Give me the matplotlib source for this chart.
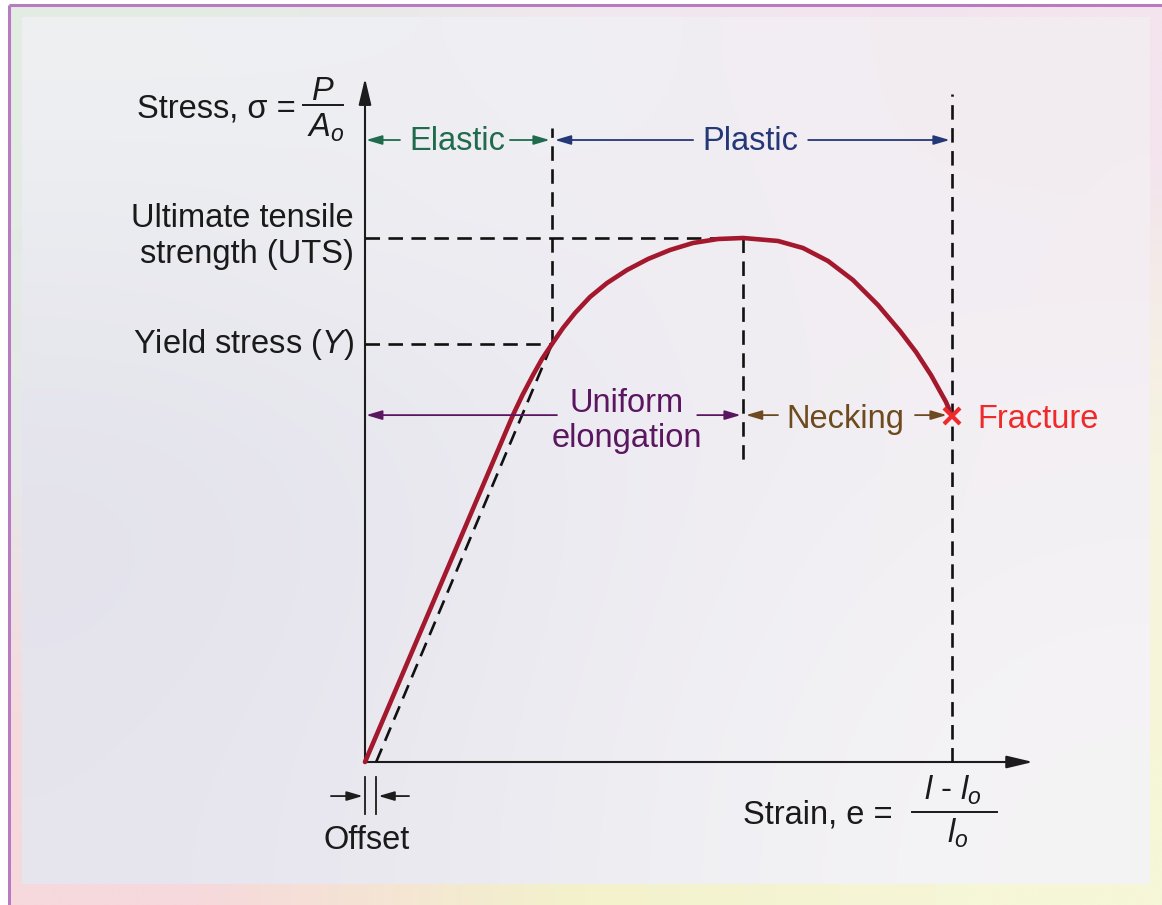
import numpy as np
import matplotlib
matplotlib.use("Agg")
import matplotlib.pyplot as plt
from matplotlib.colors import to_rgb

# ---------------- data (strain normalised to fracture strain, stress normalised to UTS)
curve_strain = [0.0, 0.2521, 0.2683, 0.2862, 0.3015, 0.3186, 0.3373, 0.3578, 0.3833,
                0.4123, 0.4463, 0.4821, 0.5196, 0.5588, 0.6014, 0.6440, 0.7036, 0.7462,
                0.7888, 0.8313, 0.8739, 0.9114, 0.9387, 0.9642, 0.9898, 1.0]
curve_stress = [0.0, 0.6622, 0.7004, 0.7385, 0.7691, 0.7977, 0.8282, 0.8569, 0.8874,
                0.9141, 0.9389, 0.9599, 0.9771, 0.9905, 0.9981, 1.0, 0.9943, 0.9809,
                0.9561, 0.9198, 0.8721, 0.8225, 0.7824, 0.7385, 0.6870, 0.6603]
offset_strain = 0.019
yield_strain, yield_stress = 0.3186, 0.7977
uts_strain, uts_stress = 0.644, 1.0
fracture_strain, fracture_stress = 1.0, 0.660

plt.rcParams["font.family"] = ["Liberation Sans", "DejaVu Sans"]
plt.rcParams["mathtext.fontset"] = "custom"
plt.rcParams["mathtext.rm"] = "Liberation Sans"
plt.rcParams["mathtext.it"] = "Liberation Sans:italic"

W, H = 1162, 905
fig = plt.figure(figsize=(W / 100, H / 100), dpi=100)
fig.patch.set_facecolor("white")

# ---------------- background (pixel coordinates)
bg = fig.add_axes([0, 0, 1, 1], zorder=0)
bg.axis("off")

def grid(cols):
    return np.array([[to_rgb(c) for c in row] for row in cols])

frame = grid([["#e3ece3", "#f1e8ee", "#f3e4ee"],
              ["#e6e8ea", "#eeedf1", "#f6f4e0"],
              ["#f6d9dc", "#f3f2cc", "#f6f6d8"]])
bg.imshow(frame, extent=(9, W, H, 5), interpolation="bilinear", aspect="auto", zorder=0)
panel = grid([["#eef0f2", "#f0eff4", "#f3ecf1"],
              ["#e2e1eb", "#ecebf2", "#f4f0f4"],
              ["#e6e5ee", "#eeedf2", "#f5f4f5"]])
bg.imshow(panel, extent=(22, 1150, 884, 18), interpolation="bicubic", aspect="auto", zorder=1)
bg.plot([9, W], [5, 5], color="#b77cbf", lw=2.2, zorder=2, solid_capstyle="butt")
bg.plot([9, 9], [5, H], color="#b77cbf", lw=2.2, zorder=2, solid_capstyle="butt")
bg.set_xlim(0, W)
bg.set_ylim(H, 0)

# ---------------- main axes
ax = fig.add_axes([365 / W, (H - 762) / H, 680 / W, 692 / H], zorder=2)
ax.set_xlim(0, 680 / 587)
ax.set_ylim(0, 692 / 524)
ax.axis("off")
ax.patch.set_alpha(0)

axis_col = "#1c1c1c"
for xy in [(1.138, 0), (0, 1.305)]:
    ax.annotate("", xy=xy, xytext=(0, 0), annotation_clip=False,
                arrowprops=dict(arrowstyle="-|>,head_length=1.6,head_width=0.38",
                                lw=1.5, color=axis_col, shrinkA=0, shrinkB=0))

dash = dict(color="#111111", lw=1.9, linestyle=(0, (5.5, 3.2)), zorder=3, clip_on=False)
# horizontal guides
ax.plot([0, uts_strain], [uts_stress, uts_stress], **dash)
ax.plot([0, yield_strain], [yield_stress, yield_stress], **dash)
# vertical guides
ax.plot([yield_strain, yield_strain], [yield_stress, 1.21], **dash)
ax.plot([uts_strain, uts_strain], [uts_stress, 0.567], **dash)
ax.plot([fracture_strain, fracture_strain], [0, 1.275], **dash)
# offset line
ax.plot([offset_strain, yield_strain], [0, yield_stress], **dash)

# curve
ax.plot(curve_strain, curve_stress, color="#a3182c", lw=3.3, zorder=4,
        solid_capstyle="round", solid_joinstyle="round", clip_on=False)
ax.plot([fracture_strain], [fracture_stress], marker="x", ms=11, mew=3,
        color="#ee2a2a", zorder=5, linestyle="none", clip_on=False)

def darrow(x0, x1, y, col):
    ax.annotate("", xy=(x1, y), xytext=(x0, y), annotation_clip=False,
                arrowprops=dict(arrowstyle="-|>,head_length=0.95,head_width=0.28",
                                lw=1.3, color=col, shrinkA=0, shrinkB=0), zorder=4)

green, blue, purple, brown = "#1f6b4c", "#243777", "#5b1660", "#6e4a1f"
y_top = 1.187
darrow(0.0596, 0.002, y_top, green)
darrow(0.247, yield_strain - 0.004, y_top, green)
darrow(0.559, yield_strain + 0.005, y_top, blue)
darrow(0.755, fracture_strain - 0.004, y_top, blue)
y_mid = 0.662
darrow(0.327, 0.002, y_mid, purple)
darrow(0.566, uts_strain - 0.004, y_mid, purple)
darrow(0.7036, uts_strain + 0.005, y_mid, brown)
darrow(0.937, fracture_strain - 0.009, y_mid, brown)

# offset markers
for xv in (0.0, offset_strain):
    ax.plot([xv, xv], [-0.029, -0.099], color=axis_col, lw=1.3, clip_on=False)
darrow(-0.058, -0.004, -0.065, axis_col)
darrow(0.075, offset_strain + 0.004, -0.065, axis_col)

# ---------------- texts (pixel coordinates)
fs = 23.5
tk = dict(fontsize=fs, color="#1a1a1a", zorder=5)
bg.text(296, 117, "Stress, σ =", ha="right", va="baseline", **tk)
bg.text(323, 100, "$P$", ha="center", va="baseline", **tk)
bg.plot([303, 343], [105, 105], color="#1a1a1a", lw=1.4, zorder=5)
bg.text(307, 137, "$A_o$", ha="left", va="baseline", **tk)

bg.text(354, 227, "Ultimate tensile", ha="right", va="baseline", **tk)
bg.text(354, 263, "strength (UTS)", ha="right", va="baseline", **tk)
bg.text(354, 353, "Yield stress ($Y$)", ha="right", va="baseline", **tk)
bg.text(367, 849, "Offset", ha="center", va="baseline", **tk)

bg.text(743, 823, "Strain, e =", ha="left", va="baseline", **tk)
bg.text(953, 800, "$l$ - $l_o$", ha="center", va="baseline", **tk)
bg.plot([912, 997], [812, 812], color="#1a1a1a", lw=1.4, zorder=5)
bg.text(958, 843, "$l_o$", ha="center", va="baseline", **tk)

bg.text(457, 150, "Elastic", ha="center", va="baseline", fontsize=fs, color=green, zorder=5)
bg.text(750, 150, "Plastic", ha="center", va="baseline", fontsize=fs, color=blue, zorder=5)
bg.text(627, 412, "Uniform", ha="center", va="baseline", fontsize=fs, color=purple, zorder=5)
bg.text(627, 447, "elongation", ha="center", va="baseline", fontsize=fs, color=purple, zorder=5)
bg.text(845, 428, "Necking", ha="center", va="baseline", fontsize=fs, color=brown, zorder=5)
bg.text(977, 428, "Fracture", ha="left", va="baseline", fontsize=fs, color="#ee2a2a", zorder=5)

fig.savefig("out.png", dpi=100, facecolor=fig.get_facecolor())
